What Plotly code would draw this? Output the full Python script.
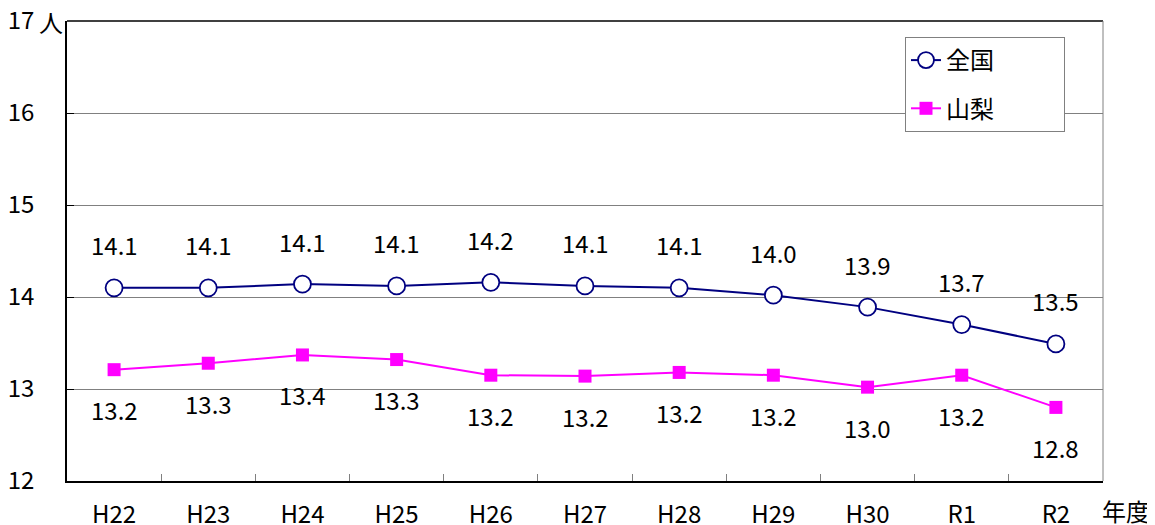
import plotly.graph_objects as go

categories = ["H22", "H23", "H24", "H25", "H26", "H27", "H28", "H29", "H30", "R1", "R2"]
zenkoku = [14.10, 14.10, 14.14, 14.12, 14.16, 14.12, 14.10, 14.02, 13.89, 13.70, 13.49]
zenkoku_labels = ["14.1", "14.1", "14.1", "14.1", "14.2", "14.1", "14.1", "14.0", "13.9", "13.7", "13.5"]
yamanashi = [13.21, 13.28, 13.37, 13.32, 13.15, 13.14, 13.18, 13.15, 13.02, 13.15, 12.80]
yamanashi_labels = ["13.2", "13.3", "13.4", "13.3", "13.2", "13.2", "13.2", "13.2", "13.0", "13.2", "12.8"]
y_ticks = [12, 13, 14, 15, 16, 17]

FONT = "Noto Sans CJK JP"
FS = 24
NAVY = "#000080"
MAG = "#FF00FF"
PAD = "\u00a0" * 12

fig = go.Figure()
fig.add_trace(go.Scatter(
    x=categories, y=zenkoku, name="全国" + PAD, mode="lines+markers",
    line=dict(color=NAVY, width=2),
    marker=dict(symbol="circle", size=17, color="white", line=dict(color=NAVY, width=1.8)),
    legendgroup="a",
))
fig.add_trace(go.Scatter(
    x=categories, y=yamanashi, name="山梨" + PAD, mode="lines+markers",
    line=dict(color=MAG, width=2),
    marker=dict(symbol="square", size=13, color=MAG),
    legendgroup="b",
))

for c, v, t in zip(categories, zenkoku, zenkoku_labels):
    fig.add_annotation(x=c, y=v, text=t, showarrow=False, yshift=43,
                       font=dict(family=FONT, size=FS, color="black"))
for c, v, t in zip(categories, yamanashi, yamanashi_labels):
    fig.add_annotation(x=c, y=v, text=t, showarrow=False, yshift=-40,
                       font=dict(family=FONT, size=FS, color="black"))

fig.add_annotation(xref="paper", yref="paper", x=-2/1036, y=1.0, text="人", showarrow=False,
                   xanchor="right", yanchor="middle", font=dict(family=FONT, size=FS, color="black"))
fig.add_annotation(xref="paper", yref="paper", x=1.0 - 3/1036, y=-29/460, text="年度", showarrow=False,
                   xanchor="left", yanchor="middle", font=dict(family=FONT, size=FS, color="black"))

# borders (top black, right gray)
fig.add_shape(type="line", xref="paper", yref="paper", x0=0, x1=1, y0=1, y1=1, line=dict(color="black", width=1.5))
fig.add_shape(type="line", xref="paper", yref="paper", x0=1, x1=1, y0=0, y1=1, line=dict(color="#808080", width=1))

fig.update_layout(
    width=1147, height=517,
    margin=dict(l=59, r=52, t=13, b=44),
    paper_bgcolor="white", plot_bgcolor="white",
    font=dict(family=FONT, size=FS, color="black"),
    showlegend=True,
    legend=dict(
        x=(905 - 67) / 1036, y=1 - (37 - 21) / 460, xanchor="left", yanchor="top",
        bordercolor="#808080", borderwidth=1, bgcolor="white",
        font=dict(family=FONT, size=FS), tracegroupgap=14,
    ),
    xaxis=dict(
        type="category", range=[-0.5, 10.5], tickson="boundaries",
        ticks="inside", ticklen=7, tickcolor="#808080",
        showline=True, linecolor="black", linewidth=1.5,
        showgrid=False, ticklabelstandoff=11, automargin=False,
        ticklabeloverflow="allow",
        tickfont=dict(family=FONT, size=FS),
    ),
    yaxis=dict(
        range=[12, 17], tickvals=y_ticks, ticktext=[str(v) for v in y_ticks],
        ticks="inside", ticklen=7, tickcolor="black",
        showline=True, linecolor="black", linewidth=1.5,
        showgrid=True, gridcolor="#808080", gridwidth=1,
        zeroline=False, ticklabelstandoff=26, automargin=False,
        ticklabeloverflow="allow",
        tickfont=dict(family=FONT, size=FS),
    ),
)

fig.write_html("out.html")
